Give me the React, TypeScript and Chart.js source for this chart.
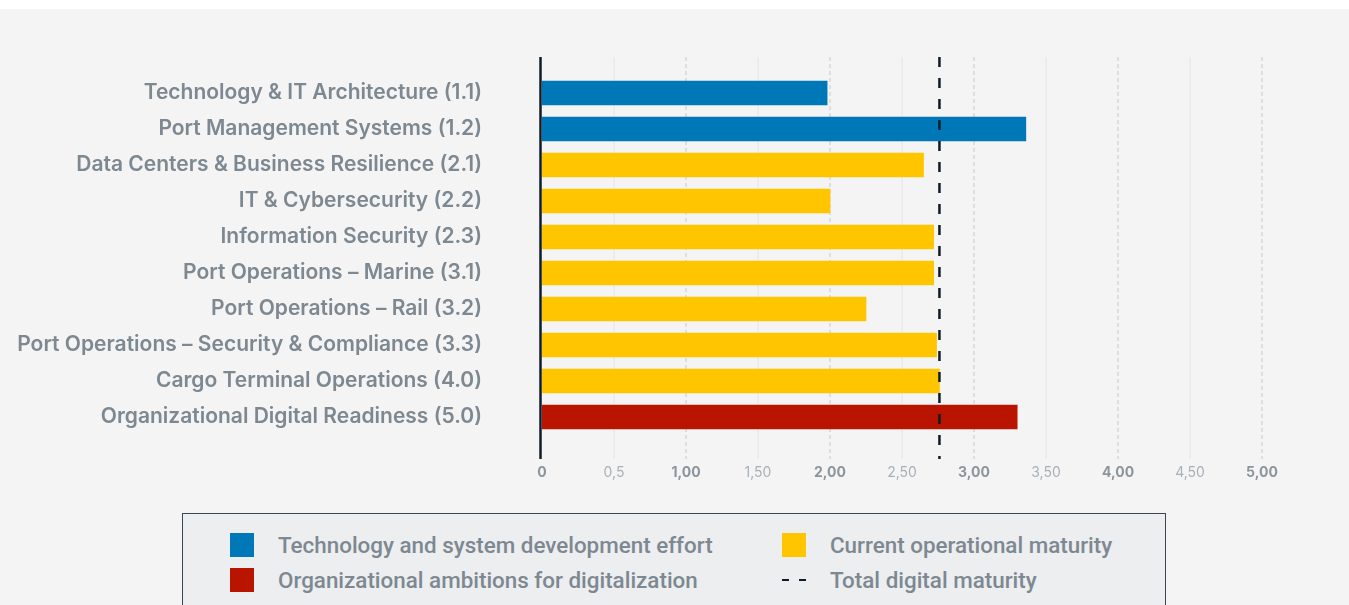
import React, { useEffect, useRef } from "react";
import { Chart, registerables } from "chart.js";

Chart.register(...registerables);

const categories = [
  "Technology & IT Architecture (1.1)",
  "Port Management Systems (1.2)",
  "Data Centers & Business Resilience (2.1)",
  "IT & Cybersecurity (2.2)",
  "Information Security (2.3)",
  "Port Operations – Marine (3.1)",
  "Port Operations – Rail (3.2)",
  "Port Operations – Security & Compliance (3.3)",
  "Cargo Terminal Operations (4.0)",
  "Organizational Digital Readiness (5.0)",
];
const scores = [1.98, 3.36, 2.65, 2.0, 2.72, 2.72, 2.25, 2.74, 2.76, 3.3];
const groups = ["tech", "tech", "ops", "ops", "ops", "ops", "ops", "ops", "ops", "ambition"];
const totalDigitalMaturity = 2.76;
const xTickValues = [0, 0.5, 1, 1.5, 2, 2.5, 3, 3.5, 4, 4.5, 5];
const xTickLabels = ["0", "0,5", "1,00", "1,50", "2,00", "2,50", "3,00", "3,50", "4,00", "4,50", "5,00"];
const legendItems = [
  { key: "tech", label: "Technology and system development effort" },
  { key: "ops", label: "Current operational maturity" },
  { key: "ambition", label: "Organizational ambitions for digitalization" },
  { key: "total", label: "Total digital maturity" },
];

const colors: Record<string, string> = {
  tech: "#0077b6",
  ops: "#ffc600",
  ambition: "#b91400",
  total: "#0e1c2a",
};

const LABEL_FONT = "Inter, 'Open Sans', sans-serif";
const LEGEND_FONT = "Roboto, 'Noto Sans', sans-serif";

const linesPlugin = {
  id: "customLines",
  beforeDatasetsDraw(chart: any) {
    const { ctx, chartArea, scales } = chart;
    const x = scales.x;
    const top = chartArea.top - 18;
    const bottom = chartArea.bottom + 24;
    ctx.save();
    xTickValues.forEach((v) => {
      if (v === 0) return;
      const px = Math.round(x.getPixelForValue(v));
      ctx.beginPath();
      if (Number.isInteger(v)) {
        ctx.setLineDash([4, 3]);
        ctx.strokeStyle = "#d6d6d6";
      } else {
        ctx.setLineDash([]);
        ctx.strokeStyle = "#eaeaea";
      }
      ctx.lineWidth = 1.5;
      ctx.moveTo(px, top);
      ctx.lineTo(px, bottom);
      ctx.stroke();
    });
    ctx.restore();
  },
  afterDatasetsDraw(chart: any) {
    const { ctx, chartArea, scales } = chart;
    const x = scales.x;
    const top = chartArea.top - 18;
    const bottom = chartArea.bottom + 24;
    ctx.save();
    const x0 = x.getPixelForValue(0) - 1.5;
    ctx.beginPath();
    ctx.setLineDash([]);
    ctx.strokeStyle = colors.total;
    ctx.lineWidth = 2.5;
    ctx.moveTo(x0, top);
    ctx.lineTo(x0, bottom);
    ctx.stroke();
    const xt = x.getPixelForValue(totalDigitalMaturity);
    ctx.beginPath();
    ctx.setLineDash([10, 11]);
    ctx.lineWidth = 2.5;
    ctx.moveTo(xt, top);
    ctx.lineTo(xt, bottom);
    ctx.stroke();
    ctx.restore();
  },
};

export default function App() {
  const canvasRef = useRef<HTMLCanvasElement | null>(null);

  useEffect(() => {
    if (!canvasRef.current) return;
    const chart = new Chart(canvasRef.current, {
      type: "bar",
      data: {
        labels: categories,
        datasets: [
          {
            data: scores,
            backgroundColor: groups.map((g) => colors[g]),
            barThickness: 24,
            borderWidth: 0,
          },
        ],
      },
      options: {
        indexAxis: "y",
        responsive: false,
        animation: false,
        layout: { padding: { top: 75, right: 87, left: 0, bottom: 0 } },
        plugins: {
          legend: { display: false },
          tooltip: { enabled: false },
        },
        scales: {
          x: {
            type: "linear",
            min: 0,
            max: 5,
            grid: { display: false, drawTicks: false },
            border: { display: false },
            afterBuildTicks: (scale: any) => {
              scale.ticks = xTickValues.map((v) => ({ value: v }));
            },
            afterFit: (scale: any) => {
              scale.height = 65;
              scale.paddingLeft = 0;
              scale.paddingRight = 0;
            },
            ticks: {
              padding: 29,
              autoSkip: false,
              maxRotation: 0,
              callback: (_v: any, i: number) => xTickLabels[i],
              color: (ctx: any) =>
                Number.isInteger(ctx.tick?.value) ? "#8b959c" : "#a9b1b7",
              font: (ctx: any) => ({
                family: LABEL_FONT,
                size: 14,
                weight: Number.isInteger(ctx.tick?.value) ? "bold" : "normal",
              }),
            },
          },
          y: {
            grid: { display: false, drawTicks: false },
            border: { display: false },
            afterFit: (scale: any) => {
              scale.width = 542;
              scale.paddingTop = 0;
              scale.paddingBottom = 0;
            },
            ticks: {
              padding: 60,
              color: "#7d8891",
              font: { family: LABEL_FONT, size: 21, weight: "600" },
            },
          },
        },
      },
      plugins: [linesPlugin],
    });
    return () => chart.destroy();
  }, []);

  const legendPos = [
    { left: 47, top: 19 },
    { left: 599, top: 19 },
    { left: 47, top: 54 },
    { left: 599, top: 54 },
  ];

  return (
    <div style={{ position: "relative", width: 1349, height: 605, background: "#ffffff", overflow: "hidden" }}>
      <style>{`body{margin:0;overflow:hidden}`}</style>
      <div style={{ position: "absolute", top: 9, left: 0, width: 1349, height: 596, background: "#f4f4f4" }} />
      <canvas ref={canvasRef} width={1349} height={500} style={{ position: "absolute", top: 0, left: 0 }} />
      <div
        style={{
          position: "absolute",
          top: 513,
          left: 182,
          width: 984,
          height: 120,
          background: "#eceef0",
          border: "1.5px solid #3a4652",
          boxSizing: "border-box",
          fontFamily: LEGEND_FONT,
        }}
      >
        {legendItems.map((item, i) => (
          <div
            key={item.key}
            style={{ position: "absolute", left: legendPos[i].left, top: legendPos[i].top, height: 24, display: "flex", alignItems: "center" }}
          >
            {item.key === "total" ? (
              <div style={{ width: 24, height: 24, display: "flex", alignItems: "center", justifyContent: "space-between" }}>
                <span style={{ width: 7, height: 2.5, background: colors.total }} />
                <span style={{ width: 7, height: 2.5, background: colors.total }} />
              </div>
            ) : (
              <div style={{ width: 24, height: 24, background: colors[item.key] }} />
            )}
            <span style={{ marginLeft: 24, fontSize: 22.4, fontWeight: 500, color: "#7d8891", whiteSpace: "nowrap" }}>
              {item.label}
            </span>
          </div>
        ))}
      </div>
    </div>
  );
}
